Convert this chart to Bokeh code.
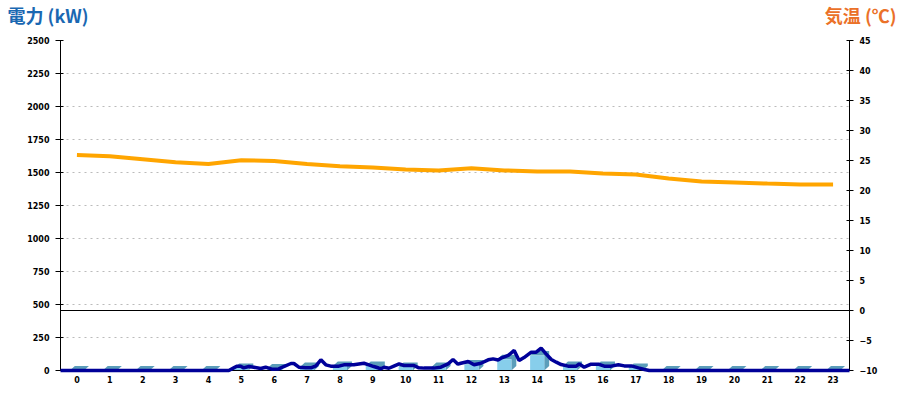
from bokeh.plotting import figure
from bokeh.layouts import column
from bokeh.models import Range1d, LinearAxis, FixedTicker, Span, Label, Plot
from bokeh.embed import file_html
from bokeh.resources import INLINE

# ---------------- data ----------------
hours = list(range(24))
hour_labels = {h: str(h) for h in hours}

# hourly energy bars (kW)
bar_kw = [0, 0, 0, 0, 0, 19, 15, 27, 34, 34, 27, 27, 45, 85, 114, 34, 34, 19, 0, 0, 0, 0, 0, 0]

# detailed power trace (time in hours, kW)
power_t = [0.0, 4.87, 5.12, 5.27, 5.36, 5.48, 5.57, 5.73, 5.88, 6.09, 6.24, 6.43, 6.64, 6.79,
           7.01, 7.10, 7.25, 7.46, 7.62, 7.77, 7.92, 8.07, 8.22, 8.47, 8.62, 8.92, 9.23, 9.38,
           9.53, 9.75, 9.84, 9.99, 10.14, 10.30, 10.45, 10.75, 10.90, 11.06, 11.36, 11.57,
           11.79, 11.94, 12.09, 12.18, 12.40, 12.58, 12.79, 13.01, 13.16, 13.31, 13.40, 13.62,
           13.80, 13.95, 14.10, 14.32, 14.47, 14.62, 14.77, 14.93, 15.08, 15.23, 15.44, 15.69,
           15.78, 15.93, 16.14, 16.36, 16.54, 16.75, 16.97, 17.15, 17.36, 17.58, 17.76, 17.91, 24.0]
power_kw = [0, 0, 0, 20, 32, 32, 20, 30, 25, 15, 25, 10, 12, 30,
            53, 53, 25, 20, 20, 35, 81, 43, 33, 33, 43, 43, 55, 43,
            30, 13, 25, 17, 33, 50, 38, 38, 20, 18, 18, 25,
            50, 83, 48, 55, 68, 43, 55, 81, 88, 80, 93, 114,
            152, 76, 98, 139, 139, 169, 126, 83, 63, 45, 33, 33,
            50, 25, 48, 48, 33, 33, 43, 35, 35, 20, 8, 0, 0]

# hourly temperature (deg C)
temp_c = [25.9, 25.7, 25.2, 24.7, 24.4, 25.05, 24.9, 24.4, 24.05, 23.85, 23.5, 23.35,
          23.7, 23.35, 23.15, 23.15, 22.85, 22.65, 22.0, 21.5, 21.35, 21.15, 21.0, 21.0]

kw_ticks = list(range(0, 2501, 250))
temp_ticks = list(range(-10, 46, 5))

left_title = "電力 (kW)"
right_title = "気温 (℃)"

HAS_FRAME_ALIGN = "frame_align" in Plot.properties()

# ---------------- header (titles) ----------------
W = 900
HH = 32
head = figure(width=W, height=HH, x_range=Range1d(0, W), y_range=Range1d(0, HH),
              output_backend="svg", toolbar_location=None,
              x_axis_location=None, y_axis_location=None,
              min_border_left=0, min_border_right=0, min_border_top=0, min_border_bottom=0)
head.outline_line_color = None
head.grid.visible = False
if HAS_FRAME_ALIGN:
    head.frame_align = False
head.add_layout(Label(x=7, y=5, x_units="screen", y_units="screen", text=left_title,
                      text_baseline="bottom", text_font="Noto Sans CJK JP",
                      text_font_style="bold", text_font_size="18px", text_color="#1A68B2"))
head.add_layout(Label(x=W - 4, y=5, x_units="screen", y_units="screen", text=right_title,
                      text_align="right", text_baseline="bottom", text_font="Noto Sans CJK JP",
                      text_font_style="bold", text_font_size="18px", text_color="#EB7128"))

# ---------------- main figure ----------------
H = 400 - HH
BL, BR, BT, BB = 60, 51, 8, 30
p = figure(width=W, height=H, x_range=Range1d(-0.5, 23.5), y_range=Range1d(0, 2500),
           output_backend="svg", toolbar_location=None,
           min_border_left=BL, min_border_right=BR, min_border_top=BT, min_border_bottom=BB)
if HAS_FRAME_ALIGN:
    p.frame_align = False
p.outline_line_color = None
p.background_fill_color = "white"
p.border_fill_color = "white"

p.extra_y_ranges = {"temp": Range1d(-10, 45)}

tick_font = "DejaVu Sans"

# x axis
p.xaxis.ticker = FixedTicker(ticks=hours)
p.xaxis.major_label_overrides = hour_labels
p.xaxis.major_tick_out = 0
p.xaxis.major_tick_in = 0
p.xaxis.minor_tick_line_color = None
p.xaxis.axis_line_color = "black"
p.xaxis.major_label_standoff = 5
p.xaxis.major_label_text_font = tick_font
p.xaxis.major_label_text_font_style = "bold"
p.xaxis.major_label_text_font_size = "8px"
p.xaxis.major_label_text_color = "black"

# left axis
p.yaxis.ticker = FixedTicker(ticks=kw_ticks)
p.yaxis.major_tick_out = 5
p.yaxis.major_tick_in = 3
p.yaxis.minor_tick_line_color = None
p.yaxis.axis_line_color = "black"
p.yaxis.major_label_standoff = 6
p.yaxis.major_label_text_font = tick_font
p.yaxis.major_label_text_font_style = "bold"
p.yaxis.major_label_text_font_size = "8px"
p.yaxis.major_label_text_color = "black"

# right axis
raxis = LinearAxis(y_range_name="temp", ticker=FixedTicker(ticks=temp_ticks))
raxis.major_tick_out = 4
raxis.major_tick_in = 3
raxis.minor_tick_line_color = None
raxis.axis_line_color = "black"
raxis.major_label_standoff = 6
raxis.major_label_text_font = tick_font
raxis.major_label_text_font_style = "bold"
raxis.major_label_text_font_size = "8px"
raxis.major_label_text_color = "black"
p.add_layout(raxis, "right")

# grid
p.xgrid.grid_line_color = None
p.ygrid.ticker = FixedTicker(ticks=kw_ticks)
p.ygrid.grid_line_color = "#bbbbbb"
p.ygrid.grid_line_dash = "2 4"
p.ygrid.grid_line_width = 1

# ---------------- bars (pseudo 3D) ----------------
w = 0.43
dx = 0.15
dy = 34
dark_xs, dark_ys = [], []
for h, v in zip(hours, bar_kw):
    l, r = h - w / 2, h + w / 2
    dark_xs.append([l, l + dx, r + dx, r + dx, r, r])
    dark_ys.append([v, v + dy, v + dy, dy, 0, v])
p.patches(dark_xs, dark_ys, fill_color="#5B9DBA", line_color=None)
p.quad(left=[h - w / 2 for h in hours], right=[h + w / 2 for h in hours],
       bottom=[0] * 24, top=bar_kw, fill_color="#87CEEB", line_color=None)

# ---------------- temperature ----------------
p.line(hours, temp_c, y_range_name="temp", line_color="#FFA500", line_width=4)
p.add_layout(Span(location=0, dimension="width", y_range_name="temp",
                  line_color="black", line_width=1))

# ---------------- power line ----------------
pl = p.line([t - 0.5 for t in power_t], power_kw, line_color="#000099", line_width=3.5)
pl.level = "annotation"

layout = column(head, p, spacing=0)
open("out.html", "w").write(file_html(layout, INLINE))
